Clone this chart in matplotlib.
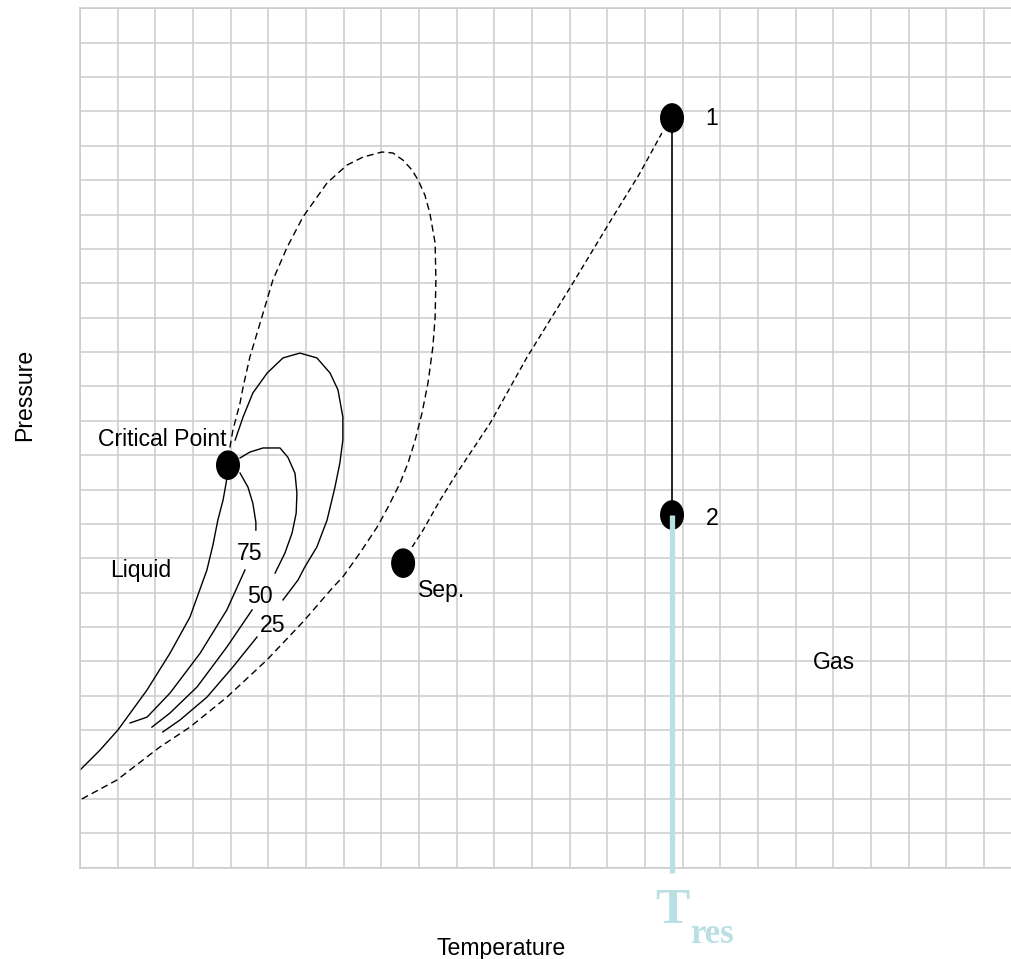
import matplotlib
matplotlib.use('Agg')
import matplotlib.pyplot as plt
from matplotlib import font_manager
from matplotlib.patches import Ellipse

# Phase envelope of a gas-condensate fluid, in grid units (temperature, pressure)
dew_t = [0.05, 0.98, 2.12, 2.92, 3.90, 4.96, 5.92, 6.72, 6.98, 7.43, 7.89, 8.18, 8.50, 8.71,
         8.90, 9.08, 9.24, 9.37, 9.43, 9.45, 9.43, 9.29, 9.16, 8.98, 8.82, 8.58, 8.31, 8.02,
         7.51, 7.09, 6.56, 5.92, 5.50, 5.12, 4.86, 4.51, 4.33, 4.25, 4.06, 3.96]
dew_p = [2.00, 2.55, 3.51, 4.09, 4.96, 6.04, 7.15, 8.16, 8.46, 9.15, 9.91, 10.49, 11.19, 11.77,
         12.44, 13.22, 14.10, 15.15, 16.02, 17.09, 18.17, 19.04, 19.56, 20.00, 20.29, 20.58,
         20.79, 20.82, 20.67, 20.44, 19.92, 18.93, 18.05, 17.09, 16.13, 14.85, 13.98, 13.52,
         12.73, 12.09]

bubble_t = [0.00, 0.53, 1.01, 1.78, 2.39, 2.92, 3.37, 3.53, 3.66, 3.80, 3.88, 3.93]
bubble_p = [2.84, 3.42, 4.01, 5.17, 6.24, 7.29, 8.66, 9.39, 10.11, 10.70, 11.19, 11.57]

# quality lines (% liquid), each split in two around its label
q75_t = [[4.25, 4.46, 4.59, 4.67, 4.67], [4.38, 3.90, 3.19, 2.39, 1.78, 1.33]]
q75_p = [[11.48, 11.07, 10.60, 10.05, 9.82], [8.66, 7.50, 6.24, 5.08, 4.38, 4.21]]
q50_t = [[4.25, 4.51, 4.86, 5.31, 5.52, 5.71, 5.76, 5.74, 5.63, 5.44, 5.18],
         [4.57, 3.90, 3.11, 2.39, 1.91]]
q50_p = [[11.92, 12.09, 12.21, 12.21, 11.94, 11.47, 10.89, 10.31, 9.73, 9.15, 8.57],
         [7.50, 6.42, 5.26, 4.50, 4.09]]
q25_t = [[4.12, 4.33, 4.59, 4.97, 5.39, 5.84, 6.29, 6.64, 6.85, 6.98, 6.98, 6.90, 6.77,
          6.56, 6.29, 5.97, 5.79, 5.39],
         [4.70, 4.06, 3.37, 2.66, 2.20]]
q25_p = [[12.44, 13.11, 13.81, 14.39, 14.83, 14.97, 14.83, 14.39, 13.90, 13.11, 12.44, 11.77,
          11.07, 10.11, 9.33, 8.75, 8.37, 7.79],
         [6.71, 5.84, 4.96, 4.30, 3.95]]

# production path from reservoir to separator
path_t = [8.82, 9.11, 9.56, 10.01, 10.89, 11.87, 13.09, 14.15, 14.87, 15.45]
path_p = [9.33, 9.82, 10.69, 11.48, 12.93, 14.85, 17.01, 18.93, 20.21, 21.37]

crit = (3.93, 11.71)
sep = (8.58, 8.86)
pt1 = (15.72, 21.81)
pt2 = (15.72, 10.26)
t_res = 15.72

grid_n = 25

available = {f.name for f in font_manager.fontManager.ttflist}
if 'Liberation Sans Narrow' in available:
    sans, fs = 'Liberation Sans Narrow', 20.3
else:
    sans, fs = 'Liberation Sans', 16.6
plt.rcParams['font.family'] = sans

fig = plt.figure(figsize=(10.11, 9.59), dpi=100)
ax = fig.add_axes([80 / 1011, 91.3 / 959, grid_n * 37.66 / 1011, 859.4 / 959])
ax.set_xlim(0, grid_n)
ax.set_ylim(0, grid_n)
ax.set_xticks(range(grid_n + 1))
ax.set_yticks(range(grid_n + 1))
ax.tick_params(length=0, labelbottom=False, labelleft=False)
ax.grid(True, color='#cbcbcb', linewidth=1.1)
ax.set_axisbelow(True)
for s in ax.spines.values():
    s.set_color('#cbcbcb')
    s.set_linewidth(1.1)

line_kw = dict(color='black', linewidth=1.0)
ax.plot(dew_t, dew_p, dashes=(5, 3), **line_kw)
ax.plot(bubble_t, bubble_p, **line_kw)
for ts, ps in (q75_t, q75_p), (q50_t, q50_p), (q25_t, q25_p):
    for t, p in zip(ts, ps):
        ax.plot(t, p, **line_kw)
ax.plot(path_t, path_p, dashes=(4, 2.5), **line_kw)
ax.plot([pt1[0], pt2[0]], [pt1[1], pt2[1]], color='black', linewidth=1.2)

for cx, cy in (crit, sep, pt1, pt2):
    ax.add_patch(Ellipse((cx, cy), 0.60, 0.82, color='black', zorder=4))

# reservoir temperature
tres_col = '#bbe0e3'
ax.plot([t_res, t_res], [pt2[1], -0.15], color=tres_col, linewidth=3.8,
        solid_capstyle='butt', clip_on=False, zorder=5)
ax.text(15.27, -1.61, 'T', color=tres_col, fontsize=37, fontweight='bold',
        family='Liberation Serif', va='baseline', ha='left')
ax.text(16.20, -2.19, 'res', color=tres_col, fontsize=25, fontweight='bold',
        family='Liberation Serif', va='baseline', ha='left')

txt = dict(fontsize=fs, va='baseline')
ax.text(3.88, 12.27, 'Critical Point', ha='right', **txt)
ax.text(0.80, 8.46, 'Liquid', ha='left', **txt)
ax.text(4.51, 8.95, '75', ha='center', **txt)
ax.text(4.78, 7.70, '50', ha='center', **txt)
ax.text(5.12, 6.86, '25', ha='center', **txt)
ax.text(8.98, 7.87, 'Sep.', ha='left', **txt)
ax.text(16.78, 21.60, '1', ha='center', **txt)
ax.text(16.78, 9.97, '2', ha='center', **txt)
ax.text(20.02, 5.78, 'Gas', ha='center', **txt)

fig.text(501 / 1011, 4 / 959, 'Temperature', ha='center', **txt)
fig.text(25 / 1011, 1 - 395 / 959, 'Pressure', rotation=90, ha='center', va='center', fontsize=fs)

fig.savefig('out.png', dpi=100)
